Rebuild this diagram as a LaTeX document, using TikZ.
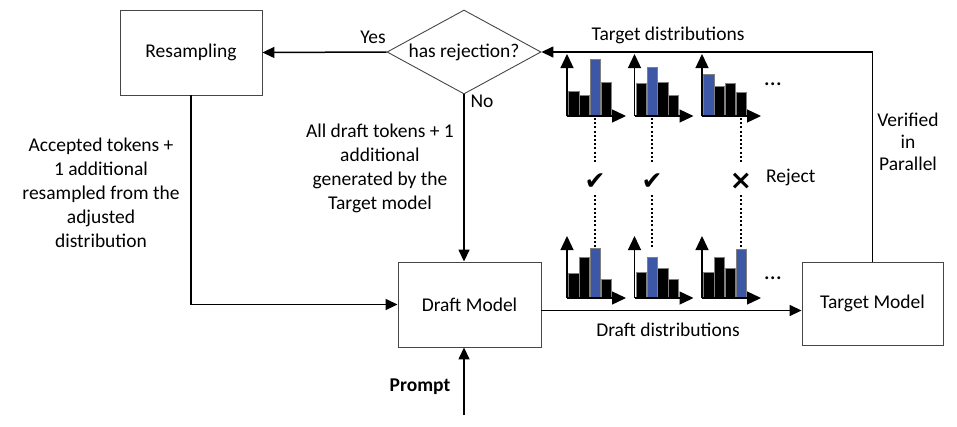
\documentclass[tikz,border=0pt]{standalone}
\usepackage{fontspec}
\setmainfont{Carlito}
\newfontfamily\djv{DejaVu Sans}
\usetikzlibrary{arrows.meta,shapes.geometric}
\definecolor{barblue}{RGB}{59,87,166}
\definecolor{boxgray}{RGB}{70,70,70}
\newcommand\distchart[7]{%
  \foreach \h [count=\i] in {#3,#4,#5,#6}{%
    \pgfmathsetmacro\bx{#1+1.5+(\i-1)*10.8}%
    \ifnum\i=#7 \def\fc{barblue}\else\def\fc{black}\fi
    \filldraw[fill=\fc, draw=gray, line width=0.6pt] (\bx,#2) rectangle ++(10.3,-\h);
  }%
  \draw[axisline] (#1,#2) -- ++(0,-62);
  \draw[axisline] (#1,#2) -- ++(59,0);
}
\begin{document}
\begin{tikzpicture}[x=1pt,y=-1pt,
  every node/.style={font=\fontsize{19.5}{24}\selectfont, inner sep=0pt},
  procbox/.style={draw=boxgray, line width=0.9pt, minimum height=85pt},
  arr/.style={-{Triangle[length=12pt,width=11pt]}, line width=1.5pt},
  axisline/.style={-{Triangle[length=14pt,width=13pt]}, line width=1.3pt},
  dotline/.style={line width=1.6pt, dash pattern=on 2pt off 2.2pt},
  checkmk/.style={font=\djv\fontsize{25}{25}\selectfont},
  lbl/.style={align=center}]
\useasboundingbox (0,0) rectangle (957,426);

% boxes
\node[procbox, minimum width=142pt] (resamp) at (191,52.5) {Resampling};
\node[procbox, minimum width=143pt] (draft) at (469.5,304.5) {Draft Model};
\node[procbox, minimum width=141pt, minimum height=83pt] (target) at (872.5,303.5) {Target Model};
\node[diamond, draw=boxgray, line width=0.9pt, minimum width=154pt, minimum height=84pt, aspect=1.83] (dia) at (464,52) {has rejection?};

% labels
\node (yes) at (373,37) {Yes};
\node (no) at (482,101) {No};
\node[lbl] (alltxt) at (380,168) {All draft tokens + 1\\additional\\generated by the\\Target model};
\node[lbl] (acctxt) at (101,193) {Accepted tokens +\\1 additional\\resampled from the\\adjusted\\distribution};
\node (tdist) at (668,35) {Target distributions};
\node (ddist) at (668,330) {Draft distributions};
\node[lbl, font=\fontsize{19.5}{22}\selectfont] (verif) at (908,141.5) {Verified\\in\\Parallel};
\node[font=\fontsize{19.5}{24}\selectfont\bfseries] (prompt) at (420,387) {Prompt};
\coordinate (pstart) at (464,415);

% connectors
\draw[arr] (dia.west) -- (resamp.east);
\draw[arr] (dia.south) -- (dia.south |- draft.north);
\draw[arr] (resamp.south) |- (draft.west);
\draw[arr] (pstart) -- (pstart |- draft.south);
\draw[arr] ([yshift=-6pt]draft.east) -- ([yshift=-6pt]draft.east -| target.west);
\draw[arr] (target.north) |- (dia.east);

% distribution charts
\distchart{567}{116}{25}{21}{57}{34}{3}
\distchart{634.5}{116}{33}{49}{34}{21}{2}
\distchart{702}{116}{42}{30}{33}{24}{1}
\distchart{567}{298}{25}{41}{50}{19}{3}
\distchart{634.5}{298}{26}{41}{30}{19}{2}
\distchart{702}{298}{26}{41}{30}{49}{4}
\node (dots1) at (773,84) {\fontsize{24}{24}\selectfont\dots};
\node (dots2) at (773,278) {\fontsize{24}{24}\selectfont\dots};

% verification marks
\node[checkmk] (ck1) at (595,182) {✔};
\node[checkmk] (ck2) at (652,182) {✔};
\node[font=\djv\bfseries\fontsize{27}{27}\selectfont] (rj) at (741,181) {×};
\node[anchor=west] (rejtxt) at (766,177) {Reject};

\foreach \x in {595,652,741}{
  \draw[dotline] (\x,118) -- (\x,163);
  \draw[dotline] (\x,195) -- (\x,248);
}
\end{tikzpicture}
\end{document}
